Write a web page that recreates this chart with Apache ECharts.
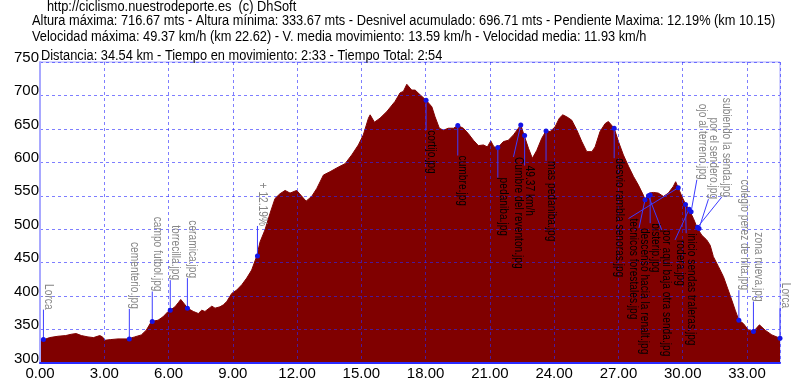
<!DOCTYPE html>
<html>
<head>
<meta charset="utf-8">
<script src="https://cdn.jsdelivr.net/npm/echarts@6/dist/echarts.min.js"></script>
<style>
html, body { margin: 0; padding: 0; background: #fff; }
#perfil { width: 800px; height: 383px; }
</style>
</head>
<body>
<div id="perfil"></div>
<script>
// perfil de altura (km, metros)
var profileKm = [0.00, 0.19, 0.45, 0.84, 1.20, 1.46, 1.69, 1.93, 2.24, 2.50, 2.79, 2.92, 3.02, 3.30, 3.64, 4.11, 4.17, 4.42, 4.73, 4.96,
    5.20, 5.51, 5.74, 5.98, 6.08, 6.30, 6.45, 6.57, 6.77, 6.88, 7.16, 7.39, 7.55, 7.70, 8.02, 8.17, 8.40, 8.56, 8.72, 8.95,
    9.18, 9.42, 9.65, 9.88, 10.12, 10.27, 10.50, 10.74, 10.97, 11.20, 11.44, 11.67, 11.98, 12.17, 12.42, 12.68, 12.92, 13.23, 13.54, 13.93,
    14.24, 14.55, 14.86, 15.09, 15.33, 15.41, 15.61, 15.87, 16.19, 16.57, 16.81, 16.96, 17.12, 17.27, 17.35, 17.51, 17.74, 18.02, 18.29, 18.44,
    18.64, 18.83, 19.06, 19.30, 19.50, 19.76, 19.99, 20.23, 20.46, 20.70, 20.88, 21.04, 21.19, 21.37, 21.63, 21.86, 22.10, 22.33, 22.44, 22.60,
    22.80, 22.98, 23.19, 23.42, 23.62, 23.81, 24.04, 24.24, 24.40, 24.59, 24.82, 25.06, 25.29, 25.52, 25.76, 25.91, 26.14, 26.38, 26.53, 26.80,
    27.00, 27.23, 27.47, 27.70, 27.93, 28.16, 28.24, 28.44, 28.63, 28.86, 29.10, 29.33, 29.56, 29.67, 29.79, 29.96, 30.11, 30.35, 30.50, 30.69,
    30.89, 31.12, 31.28, 31.43, 31.67, 31.90, 32.09, 32.29, 32.45, 32.62, 32.83, 33.07, 33.30, 33.58, 33.85, 34.16, 34.54];
var profileAlt = [334, 335, 338, 340, 341, 343, 344, 341, 339, 338, 341, 339, 334, 335, 336, 336, 336, 339, 342, 349,
    362, 364, 369, 377, 379, 384, 390, 395, 387, 382, 377, 374, 379, 377, 385, 382, 384, 387, 392, 404,
    409, 417, 427, 439, 460, 481, 499, 524, 546, 553, 558, 554, 558, 551, 542, 549, 561, 581, 586, 593,
    598, 611, 626, 641, 666, 671, 660, 666, 676, 691, 704, 706, 716.67, 711, 708, 708, 701, 693, 683, 668,
    651, 648, 651, 651, 655, 651, 643, 633, 625, 626, 623, 632, 623, 622, 631, 633, 641, 651, 656, 640,
    621, 606, 618, 636, 647, 646, 653, 666, 671, 668, 663, 648, 631, 616, 616, 623, 646, 658, 661, 651,
    631, 611, 594, 579, 566, 551, 544, 554, 555, 554, 549, 554, 564, 571, 562, 549, 539, 526, 516, 501,
    491, 484, 476, 459, 444, 429, 412, 394, 379, 364, 359, 349, 347, 357, 349, 342, 337];

// fotos y puntos marcados
var annoName = ['Lorca', 'cementerio.jpg', 'campo futbol.jpg', 'torrecilla.jpg', 'ceramica.jpg', '+ 12.19%',
    'cortijo.jpg', 'cumbre.jpg', 'pedaniba.jpg', 'Cumbre del reventon.jpg', '49.37 km/h', 'mas pedaniba.jpg',
    'desvio rambla senoras.jpg', 'tecnicos forestales.jpg', 'descenso hacia la renalt.jpg', 'bisterip.jpg',
    'por aqui baja otra senda.jpg', 'rodera.jpg', 'inicio sendas traleras.jpg', 'ojo al terreno.jpg',
    'por el sendero.jpg', 'subiendo la senda.jpg', 'colegio perez de hita.jpg', 'zona nueva.jpg', 'Lorca'];
var annoKm = [0.16, 4.17, 5.24, 6.08, 6.88, 10.15, 18.02, 19.50, 21.37, 22.44, 22.62, 23.62,
    26.80, 29.79, 28.24, 28.48, 28.40, 30.30, 30.13, 30.39, 30.76, 30.69, 32.62, 33.30, 34.54];
var annoAlt = [335, 336, 362, 379, 382, 460, 693, 655, 622, 656, 640, 647,
    651, 562, 544, 551, 550, 530, 537, 526, 501, 503, 364, 347, 337];
var annoSide = ['up', 'up', 'up', 'up', 'up', 'up', 'down', 'down', 'down', 'down', 'down', 'down',
    'down', 'down', 'down', 'down', 'down', 'down', 'down', 'up', 'up', 'up', 'up', 'up', 'up'];
// donde acaba la linea guia cuando la etiqueta esta desplazada (km, m)
var labelKm = [null, null, null, null, null, null, null, null, null, 22.10, null, null,
    null, 27.47, 27.96, 28.48, 29.02, 29.64, 30.16, 30.66, 31.20, 31.82, null, null, null];
var labelAlt = [null, null, null, null, null, null, null, null, null, 608, null, null,
    null, 516, 502, 509, 499, 484, 494, 574, 545, 548, null, null, null];

var headLines = [
    'http://ciclismo.nuestrodeporte.es  (c) DhSoft',
    'Altura máxima: 716.67 mts - Altura mínima: 333.67 mts - Desnivel acumulado: 696.71 mts - Pendiente Maxima: 12.19% (km 10.15)',
    'Velocidad máxima: 49.37 km/h (km 22.62) - V. media movimiento: 13.59 km/h - Velocidad media: 11.93 km/h',
    'Distancia: 34.54 km - Tiempo en movimiento: 2:33 - Tiempo Total: 2:54'
];

var sans = '"Liberation Sans", Arial, sans-serif';

var myChart = echarts.init(document.getElementById('perfil'));

function renderAnno(params, api) {
    var i = api.value(2);
    var p = api.coord([api.value(0), api.value(1)]);
    var up = annoSide[i] === 'up';
    var a;
    if (labelKm[i] != null) {
        a = api.coord([labelKm[i], labelAlt[i]]);
    } else {
        a = [p[0], up ? p[1] - 30 : p[1] + 30];   // 30px de linea guia
    }
    return {
        type: 'group',
        children: [
            { type: 'line', shape: { x1: p[0], y1: p[1], x2: a[0], y2: a[1] }, style: { stroke: '#3c3cff', lineWidth: 1 } },
            { type: 'circle', shape: { cx: p[0], cy: p[1], r: 2.5 }, style: { fill: '#1414e6' } },
            {
                type: 'text', x: a[0] - 1, y: a[1], rotation: -Math.PI / 2, scaleX: 0.85,
                style: {
                    text: annoName[i],
                    fill: up ? '#858585' : '#000',
                    font: '12px ' + sans,
                    align: up ? 'right' : 'left',
                    verticalAlign: 'bottom'
                }
            }
        ]
    };
}

function headText(txt, x, y) {
    return {
        type: 'text', x: x, y: y, scaleX: 0.915,
        style: { text: txt, fill: '#000', font: '14px ' + sans, verticalAlign: 'middle' }
    };
}

var option = {
    animation: false,
    graphic: [
        headText(headLines[0], 47, 7),
        headText(headLines[1], 32, 21),
        headText(headLines[2], 32, 37),
        headText(headLines[3], 41, 56)
    ],
    grid: {
        left: 40, right: 20, top: 62, bottom: 20,
        show: true, borderColor: '#a8a8ff', borderWidth: 1
    },
    xAxis: {
        type: 'value',
        min: 0,
        max: 34.54,
        interval: 3,
        z: 3,
        axisLine: { lineStyle: { color: '#2a2aff', width: 2 } },
        axisTick: { show: false },
        splitLine: { lineStyle: { color: 'rgba(40,40,255,0.6)', type: [3, 3], width: 1 } },
        axisLabel: {
            showMaxLabel: false,
            margin: 3,
            color: '#000',
            fontFamily: sans,
            fontSize: 15,
            formatter: function (v) { return v.toFixed(2); }
        }
    },
    yAxis: {
        type: 'value',
        min: 300,
        max: 750,
        interval: 50,
        z: 3,
        axisLine: { show: true, lineStyle: { color: '#a8a8ff', width: 2 } },
        axisTick: { show: false },
        splitLine: { lineStyle: { color: 'rgba(40,40,255,0.6)', type: [3, 3], width: 1 } },
        axisLabel: {
            margin: 1,
            color: '#000',
            verticalAlign: 'bottom',
            padding: [0, 0, -3, 0],
            fontFamily: sans,
            fontSize: 15
        }
    },
    series: [
        {
            name: 'altura',
            type: 'line',
            z: 2,
            showSymbol: false,
            data: profileKm.map(function (k, i) { return [k, profileAlt[i]]; }),
            lineStyle: { color: '#800000', width: 1 },
            areaStyle: { color: '#800000', opacity: 1 }
        },
        {
            name: 'fotos',
            type: 'custom',
            z: 5,
            clip: false,
            renderItem: renderAnno,
            encode: { x: 0, y: 1 },
            data: annoKm.map(function (k, i) { return [k, annoAlt[i], i]; })
        }
    ]
};
myChart.setOption(option);
</script>
</body>
</html>
